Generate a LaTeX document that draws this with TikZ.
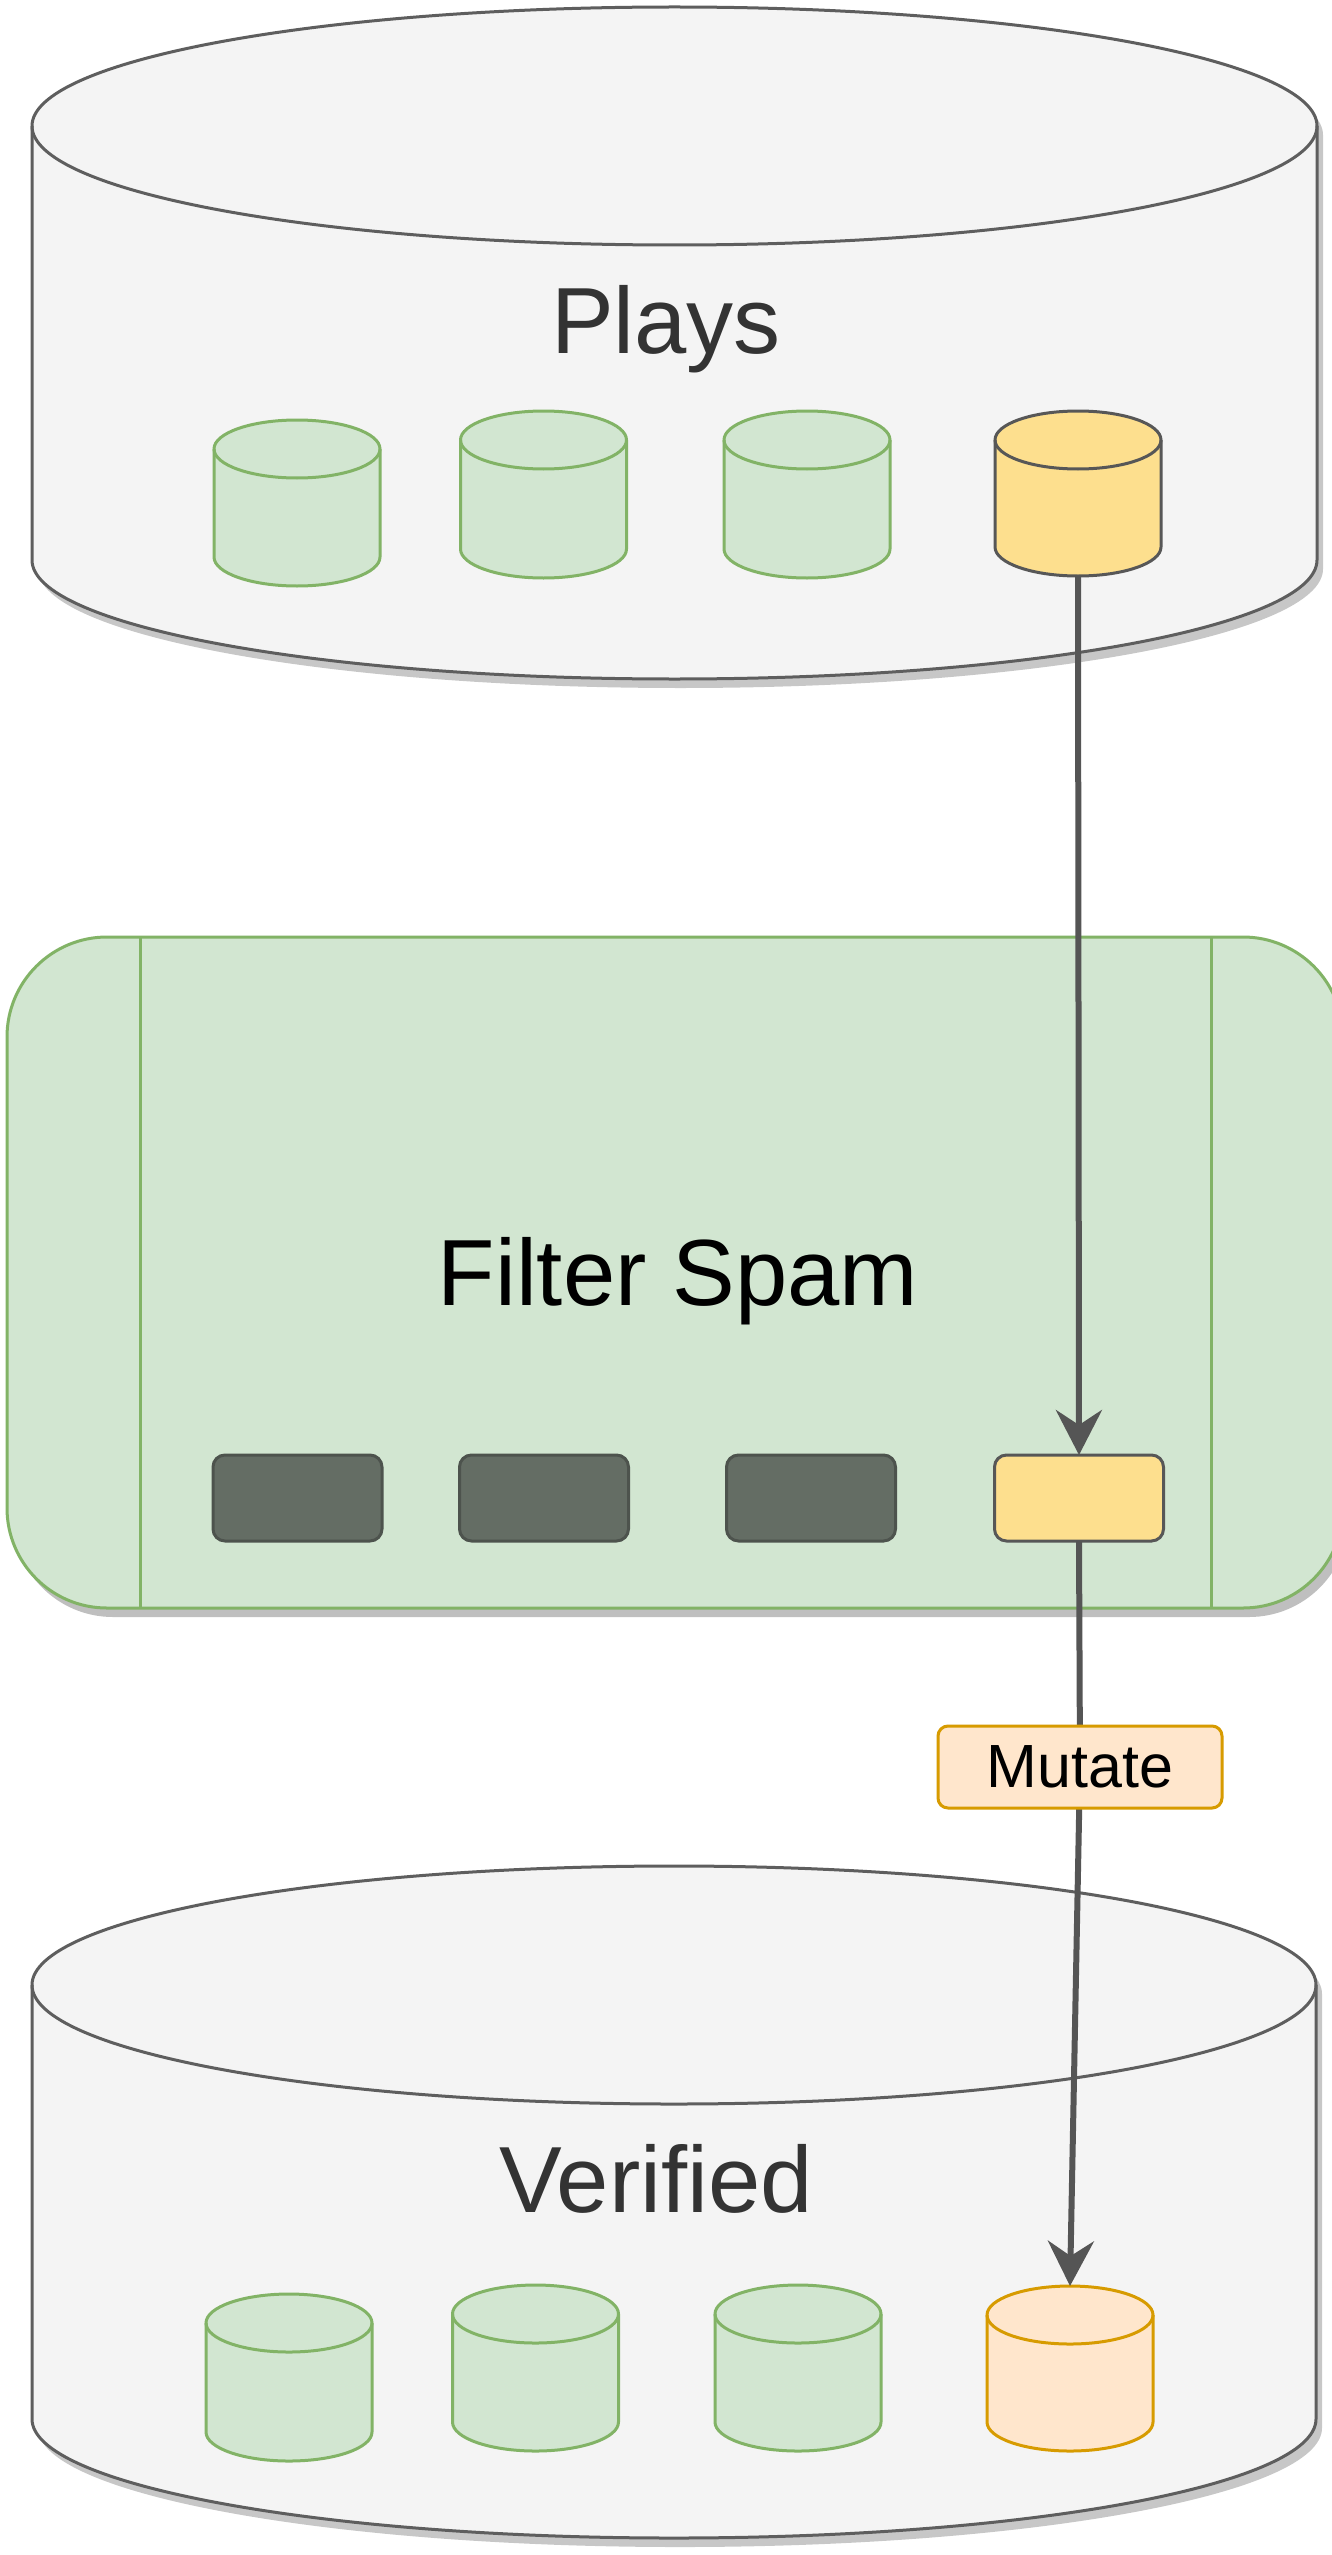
\documentclass[tikz,border=0pt]{standalone}
\usepackage{fontspec}
\setmainfont{Liberation Sans}
\usetikzlibrary{arrows.meta,shadows}

\definecolor{grayfill}{HTML}{F4F4F4}
\definecolor{graystroke}{HTML}{5E5E5E}
\definecolor{greenfill}{HTML}{D2E6D1}
\definecolor{greenstroke}{HTML}{82B366}
\definecolor{yellowfill}{HTML}{FDDF8E}
\definecolor{yellowstroke}{HTML}{575757}
\definecolor{orangefill}{HTML}{FFE6CC}
\definecolor{orangestroke}{HTML}{D79B00}
\definecolor{darkfill}{HTML}{646D64}
\definecolor{darkstroke}{HTML}{4D534D}
\definecolor{edgecol}{HTML}{555555}
\definecolor{txtgray}{HTML}{333333}

% cylinder: name, cx, ytop, width, height, ry, fill, stroke, shadow opacity
\newcommand{\mycyl}[9]{%
  \pgfmathsetmacro{\cylxa}{#2-#4/2}%
  \pgfmathsetmacro{\cylxb}{#2+#4/2}%
  \pgfmathsetmacro{\cylyb}{#3+#5}%
  \pgfmathsetmacro{\cylya}{#3+#6}%
  \pgfmathsetmacro{\cylyc}{#3+#5-#6}%
  \pgfmathsetmacro{\cylyd}{#3+2*#6}%
  \pgfmathsetmacro{\cylkx}{0.5523*#4/2}%
  \pgfmathsetmacro{\cylky}{0.5523*#6}%
  \pgfmathsetmacro{\cylym}{#3+#5/2}%
  \fill[black, opacity=#9, shift={(6,9)}] (\cylxa,\cylya) -- (\cylxa,\cylyc)
    .. controls (\cylxa,\cylyc+\cylky) and (#2-\cylkx,\cylyb) .. (#2,\cylyb)
    .. controls (#2+\cylkx,\cylyb) and (\cylxb,\cylyc+\cylky) .. (\cylxb,\cylyc)
    -- (\cylxb,\cylya)
    .. controls (\cylxb,\cylya-\cylky) and (#2+\cylkx,#3) .. (#2,#3)
    .. controls (#2-\cylkx,#3) and (\cylxa,\cylya-\cylky) .. cycle;
  \path[fill=#7, draw=#8, line width=3pt] (\cylxa,\cylya) -- (\cylxa,\cylyc)
    .. controls (\cylxa,\cylyc+\cylky) and (#2-\cylkx,\cylyb) .. (#2,\cylyb)
    .. controls (#2+\cylkx,\cylyb) and (\cylxb,\cylyc+\cylky) .. (\cylxb,\cylyc)
    -- (\cylxb,\cylya)
    .. controls (\cylxb,\cylya-\cylky) and (#2+\cylkx,#3) .. (#2,#3)
    .. controls (#2-\cylkx,#3) and (\cylxa,\cylya-\cylky) .. cycle;
  \draw[#8, line width=3pt] (\cylxa,\cylya)
    .. controls (\cylxa,\cylya+\cylky) and (#2-\cylkx,\cylyd) .. (#2,\cylyd)
    .. controls (#2+\cylkx,\cylyd) and (\cylxb,\cylya+\cylky) .. (\cylxb,\cylya);
  \node[inner sep=0pt, outer sep=0pt, minimum width=#4, minimum height=#5] (#1) at (#2,\cylym) {};
}

\tikzset{
  bigtext/.style={anchor=base, font=\fontsize{94}{100}\selectfont, inner sep=0pt},
  procbox/.style={rounded corners=12pt, minimum width=169pt, minimum height=86pt,
    line width=3pt, inner sep=0pt, outer sep=0pt},
  darkbox/.style={procbox, fill=darkfill, draw=darkstroke},
  yellowbox/.style={procbox, fill=yellowfill, draw=yellowstroke},
  flowedge/.style={draw=edgecol, line width=6pt,
    -{Stealth[length=45pt, width=46pt, inset=15pt]}},
  mutlabel/.style={fill=orangefill, draw=orangestroke, line width=3pt,
    rounded corners=10pt, minimum width=284pt, minimum height=82pt, inner sep=0pt,
    font=\fontsize{61}{64}\selectfont},
  filterbox/.style={fill=greenfill, draw=greenstroke, line width=3pt,
    rounded corners=100pt, minimum width=1336pt, minimum height=671pt,
    inner sep=0pt, outer sep=0pt,
    drop shadow={shadow xshift=6pt, shadow yshift=-9pt, opacity=0.25, fill=black}}
}

\begin{document}
\begin{tikzpicture}[x=1pt, y=-1pt]
\useasboundingbox (0,0) rectangle (1332,2555);
\fill[white] (0,0) rectangle (1332,2555);

% Plays database
\mycyl{plays}{674.5}{7}{1285}{672}{119}{grayfill}{graystroke}{0.22}
\node[bigtext, text=txtgray] (playstext) at (666,353) {Plays};
\mycyl{p1}{297}{420}{166}{166}{29}{greenfill}{greenstroke}{0}
\mycyl{p2}{543.5}{411}{166}{167}{29}{greenfill}{greenstroke}{0}
\mycyl{p3}{807}{411}{166}{167}{29}{greenfill}{greenstroke}{0}
\mycyl{p4}{1078}{411}{166}{165}{29}{yellowfill}{yellowstroke}{0}

% Filter Spam process
\node[filterbox] (filter) at (675,1272.5) {};
\draw[greenstroke, line width=3pt] (140,937) -- (140,1608);
\draw[greenstroke, line width=3pt] (1211,937) -- (1211,1608);
\node[bigtext, text=black] (filtertext) at (678,1305) {Filter Spam};
\node[darkbox] (f1) at (297.5,1498) {};
\node[darkbox] (f2) at (544,1498) {};
\node[darkbox] (f3) at (811,1498) {};
\node[yellowbox] (f4) at (1079,1498) {};

% Verified database
\mycyl{verified}{674}{1866}{1284}{672}{119}{grayfill}{graystroke}{0.22}
\node[bigtext, text=txtgray] (verifiedtext) at (656,2212) {Verified};
\mycyl{v1}{289}{2294}{166}{167}{29}{greenfill}{greenstroke}{0}
\mycyl{v2}{535.5}{2285}{166}{166}{29}{greenfill}{greenstroke}{0}
\mycyl{v3}{798}{2285}{166}{166}{29}{greenfill}{greenstroke}{0}
\mycyl{v4}{1070}{2286}{166}{165}{29}{orangefill}{orangestroke}{0}

% connectors
\draw[flowedge] (p4.south) -- (f4.north);
\coordinate (mutc) at (1080,1767);
\draw[flowedge] (f4.south) -- (mutc) -- (v4.north);
\node[mutlabel] (mut) at (mutc) {Mutate};
\end{tikzpicture}
\end{document}
